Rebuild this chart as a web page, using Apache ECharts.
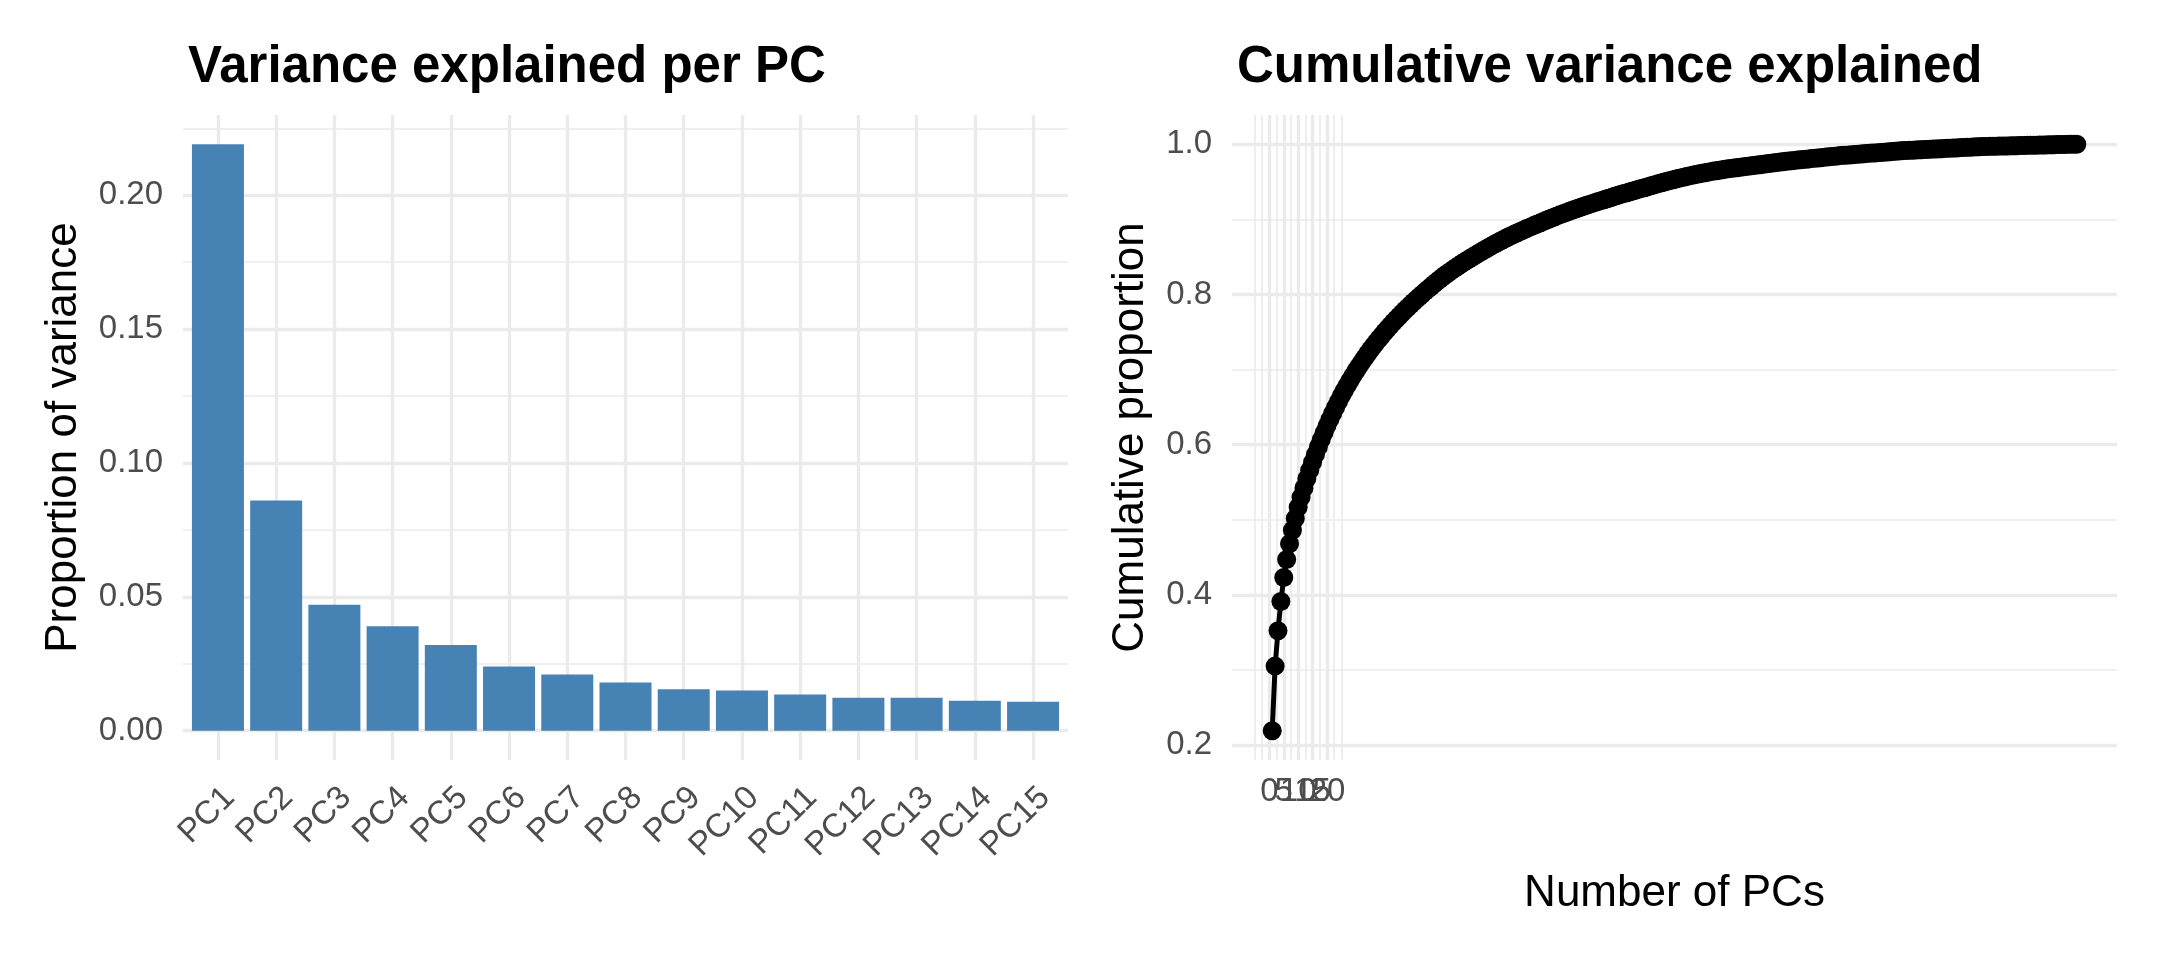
<!DOCTYPE html>
<html>
<head>
<meta charset="utf-8">
<title>PCA variance</title>
<script src="https://cdn.jsdelivr.net/npm/echarts@6/dist/echarts.min.js"></script>
<style>
  html, body { margin: 0; padding: 0; background: #fff; }
  #main { width: 2160px; height: 960px; }
</style>
</head>
<body>
<div id="main"></div>
<script>
// bar chart: first 15 PCs
var pcLabels = ['PC1', 'PC2', 'PC3', 'PC4', 'PC5', 'PC6', 'PC7', 'PC8',
                'PC9', 'PC10', 'PC11', 'PC12', 'PC13', 'PC14', 'PC15'];
var varExplained = [0.219, 0.086, 0.047, 0.039, 0.032, 0.024, 0.021, 0.018,
                    0.0155, 0.015, 0.0135, 0.0123, 0.0123, 0.0112, 0.0108];

// cumulative proportion, one value per PC
var cumulative = [
  0.2190,0.3050,0.3520,0.3910,0.4230,0.4470,0.4680,0.4860,0.5015,0.5165,
  0.5300,0.5423,0.5546,0.5658,0.5766,0.5870,0.5970,0.6067,0.6160,0.6250,
  0.6336,0.6419,0.6499,0.6576,0.6650,0.6721,0.6789,0.6855,0.6919,0.6980,
  0.7039,0.7096,0.7152,0.7206,0.7260,0.7311,0.7360,0.7408,0.7454,0.7500,
  0.7544,0.7587,0.7629,0.7670,0.7710,0.7750,0.7789,0.7827,0.7864,0.7900,
  0.7935,0.7970,0.8004,0.8038,0.8071,0.8104,0.8136,0.8168,0.8199,0.8230,
  0.8259,0.8287,0.8314,0.8341,0.8367,0.8393,0.8418,0.8443,0.8467,0.8490,
  0.8513,0.8536,0.8559,0.8581,0.8603,0.8625,0.8647,0.8668,0.8689,0.8710,
  0.8730,0.8749,0.8768,0.8786,0.8804,0.8822,0.8840,0.8857,0.8874,0.8890,
  0.8907,0.8924,0.8940,0.8956,0.8972,0.8988,0.9004,0.9020,0.9035,0.9050,
  0.9065,0.9079,0.9093,0.9107,0.9121,0.9135,0.9148,0.9161,0.9174,0.9187,
  0.9200,0.9213,0.9226,0.9238,0.9250,0.9262,0.9274,0.9286,0.9298,0.9310,
  0.9322,0.9334,0.9345,0.9356,0.9367,0.9378,0.9389,0.9400,0.9411,0.9422,
  0.9433,0.9444,0.9455,0.9466,0.9477,0.9488,0.9498,0.9508,0.9518,0.9528,
  0.9538,0.9547,0.9556,0.9565,0.9574,0.9583,0.9591,0.9599,0.9607,0.9615,
  0.9622,0.9629,0.9636,0.9643,0.9649,0.9655,0.9661,0.9667,0.9673,0.9679,
  0.9684,0.9689,0.9694,0.9699,0.9704,0.9709,0.9714,0.9719,0.9724,0.9729,
  0.9734,0.9739,0.9744,0.9749,0.9754,0.9759,0.9764,0.9769,0.9774,0.9778,
  0.9782,0.9786,0.9790,0.9794,0.9798,0.9802,0.9806,0.9810,0.9814,0.9818,
  0.9822,0.9826,0.9830,0.9834,0.9838,0.9842,0.9846,0.9850,0.9853,0.9856,
  0.9859,0.9862,0.9865,0.9868,0.9871,0.9874,0.9877,0.9880,0.9883,0.9886,
  0.9889,0.9892,0.9895,0.9898,0.9901,0.9904,0.9907,0.9910,0.9913,0.9916,
  0.9918,0.9920,0.9922,0.9924,0.9926,0.9928,0.9930,0.9932,0.9934,0.9936,
  0.9938,0.9940,0.9942,0.9944,0.9946,0.9948,0.9950,0.9952,0.9954,0.9956,
  0.9958,0.9960,0.9962,0.9964,0.9966,0.9968,0.9970,0.9971,0.9972,0.9973,
  0.9974,0.9975,0.9976,0.9977,0.9978,0.9979,0.9980,0.9981,0.9982,0.9983,
  0.9984,0.9985,0.9986,0.9987,0.9988,0.9989,0.9990,0.9991,0.9992,0.9993,
  0.9994,0.9995,0.9996,0.9997,0.9998,0.9999,1.0000,1.0000,1.0000,1.0000
];

// tick values
var leftYTicks = [0, 0.05, 0.10, 0.15, 0.20];
var leftYMinor = [0.025, 0.075, 0.125, 0.175, 0.225];
var rightXTicks = [0, 5, 10, 15, 20];
var rightXMinor = [-5, -2.5, 2.5, 7.5, 12.5, 17.5, 22.5, 25];
var rightYTicks = [0.2, 0.4, 0.6, 0.8, 1.0];
var rightYMinor = [0.3, 0.5, 0.7, 0.9];

var FONT = '"Liberation Sans", Arial, Helvetica, sans-serif';
var GRID = '#EBEBEB';
var MAJOR_W = 3.4, MINOR_W = 1.7;

// ggplot style 5% padding of the data range
function padRange(lo, hi) {
    var p = (hi - lo) * 0.05;
    return [lo - p, hi + p];
}

var barX = pcLabels.map(function (d, i) { return i + 1; });
var barData = varExplained.map(function (v, i) { return [barX[i], v]; });
var cumData = cumulative.map(function (v, i) { return [i + 1, v]; });

var leftY = padRange(0, Math.max.apply(null, varExplained));
var rightX = padRange(1, cumulative.length);
var rightY = padRange(Math.min.apply(null, cumulative), Math.max.apply(null, cumulative));

function gridAxis(extra) {
    var base = {
        type: 'value',
        axisLine: { show: false },
        axisTick: { show: false },
        axisLabel: { show: false },
        splitLine: { show: true, lineStyle: { color: GRID, width: MAJOR_W } }
    };
    for (var k in extra) base[k] = extra[k];
    return base;
}

var titleText = { fontFamily: FONT, fontSize: 44, color: '#000' };
var plotTitle = { fontFamily: FONT, fontSize: 51, fontWeight: 'bold', color: '#000' };

var xAxes = [
    gridAxis({
        gridIndex: 0, min: 0.4, max: 15.6,
        axisTick: { show: false, customValues: barX },
        axisLabel: {
            show: true, customValues: barX, rotate: 45, margin: 21,
            verticalAlign: 'top', showMinLabel: true, showMaxLabel: true,
            fontFamily: FONT, fontSize: 33, color: '#4D4D4D',
            formatter: function (v) { return pcLabels[Math.round(v) - 1]; }
        }
    }),
    gridAxis({
        gridIndex: 1, min: rightX[0], max: rightX[1],
        axisTick: { show: false, customValues: rightXTicks },
        name: 'Number of PCs', nameLocation: 'middle', nameGap: 112,
        nameTextStyle: titleText
    }),
    gridAxis({
        gridIndex: 1, position: 'top', min: rightX[0], max: rightX[1],
        axisTick: { show: false, customValues: rightXMinor },
        splitLine: { show: true, lineStyle: { color: GRID, width: MINOR_W } }
    })
];

// the x labels 0..20 sit on top of each other, so each gets its own axis
// (otherwise echarts drops the overlapping ones)
rightXTicks.forEach(function (t) {
    xAxes.push(gridAxis({
        gridIndex: 1, position: 'bottom', min: rightX[0], max: rightX[1],
        splitLine: { show: false },
        axisTick: { show: false, customValues: [t] },
        axisLabel: {
            show: true, customValues: [t], margin: 15,
            showMinLabel: true, showMaxLabel: true,
            fontFamily: FONT, fontSize: 33, color: '#4D4D4D',
            formatter: function (v) { return String(v); }
        }
    }));
});

var option = {
    backgroundColor: '#fff',
    animation: false,
    title: [
        { text: 'Variance explained per PC', left: 183, top: 37, textStyle: plotTitle },
        { text: 'Cumulative variance explained', left: 1232, top: 37, textStyle: plotTitle }
    ],
    grid: [
        { left: 183, top: 115, width: 885, height: 645 },
        { left: 1232, top: 115, width: 885, height: 645 }
    ],
    xAxis: xAxes,
    yAxis: [
        gridAxis({
            gridIndex: 0, min: leftY[0], max: leftY[1],
            axisTick: { show: false, customValues: leftYTicks },
            axisLabel: {
                show: true, customValues: leftYTicks, margin: 20,
                showMinLabel: true, showMaxLabel: true,
                fontFamily: FONT, fontSize: 33, color: '#4D4D4D',
                formatter: function (v) { return v.toFixed(2); }
            },
            name: 'Proportion of variance', nameLocation: 'middle', nameGap: 97,
            nameTextStyle: titleText
        }),
        gridAxis({
            gridIndex: 0, position: 'right', min: leftY[0], max: leftY[1],
            axisTick: { show: false, customValues: leftYMinor },
            splitLine: { show: true, lineStyle: { color: GRID, width: MINOR_W } }
        }),
        gridAxis({
            gridIndex: 1, min: rightY[0], max: rightY[1],
            axisTick: { show: false, customValues: rightYTicks },
            axisLabel: {
                show: true, customValues: rightYTicks, margin: 20,
                showMinLabel: true, showMaxLabel: true,
                fontFamily: FONT, fontSize: 33, color: '#4D4D4D',
                formatter: function (v) { return v.toFixed(1); }
            },
            name: 'Cumulative proportion', nameLocation: 'middle', nameGap: 79,
            nameTextStyle: titleText
        }),
        gridAxis({
            gridIndex: 1, position: 'right', min: rightY[0], max: rightY[1],
            axisTick: { show: false, customValues: rightYMinor },
            splitLine: { show: true, lineStyle: { color: GRID, width: MINOR_W } }
        })
    ],
    series: [
        {
            type: 'bar', xAxisIndex: 0, yAxisIndex: 0,
            data: barData, barWidth: 52,
            itemStyle: { color: '#4682B4' }
        },
        {
            type: 'line', xAxisIndex: 1, yAxisIndex: 2,
            data: cumData,
            symbol: 'circle', symbolSize: 19, showSymbol: true,
            lineStyle: { color: '#000', width: 5 },
            itemStyle: { color: '#000' }
        }
    ]
};

var chart = echarts.init(document.getElementById('main'));
chart.setOption(option);
</script>
</body>
</html>
